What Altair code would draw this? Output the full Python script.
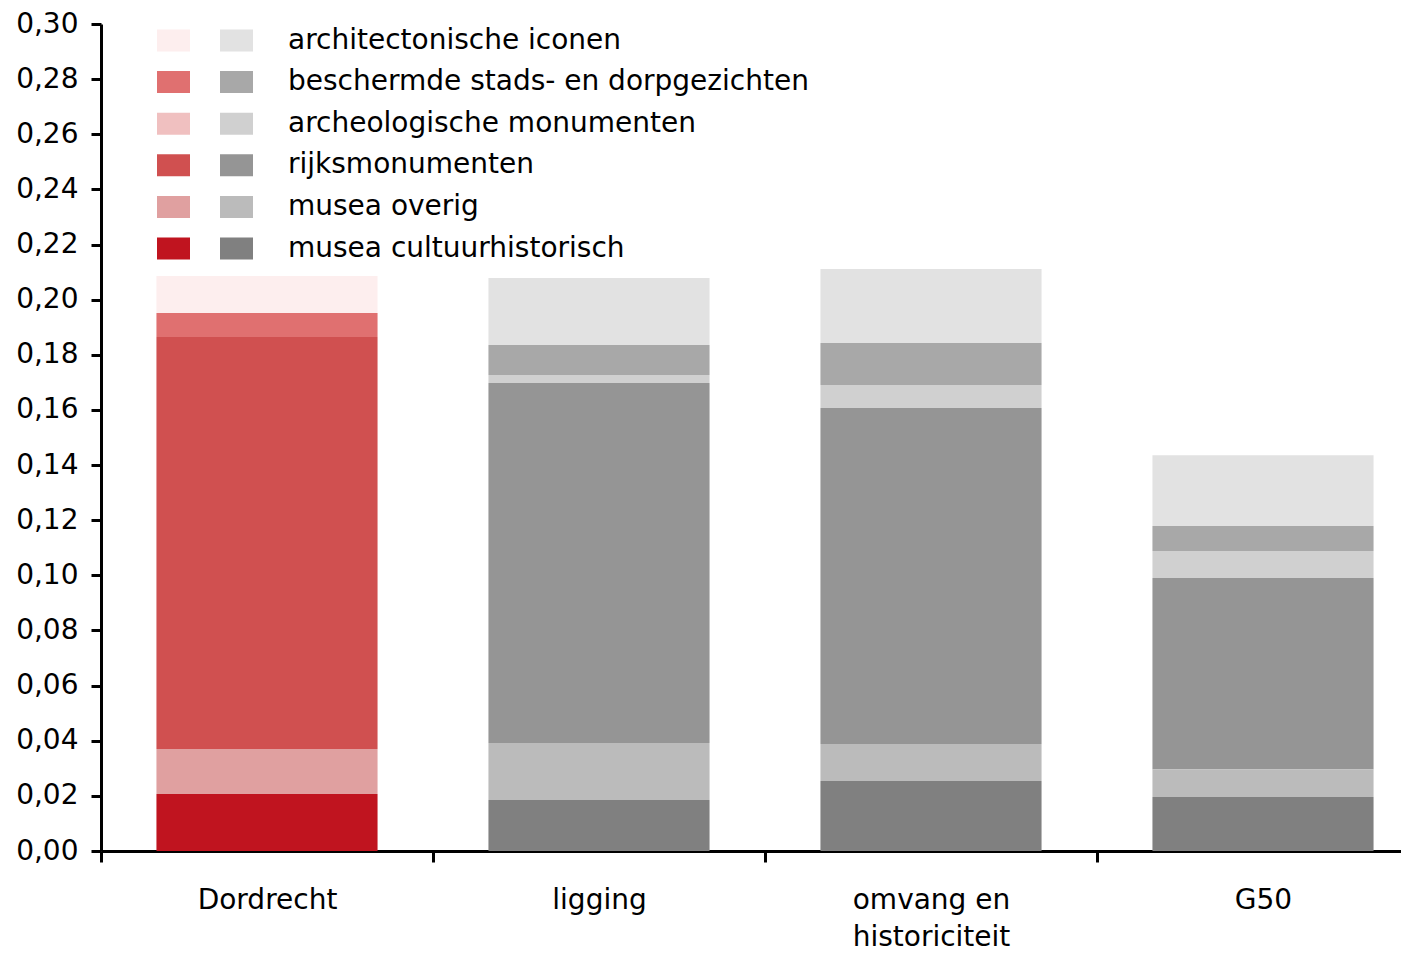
import altair as alt
import pandas as pd

CATEGORIES = ["Dordrecht", "ligging", "omvang en\nhistoriciteit", "G50"]
# legend order, top -> bottom
COMPONENTS = [
    "architectonische iconen",
    "beschermde stads- en dorpgezichten",
    "archeologische monumenten",
    "rijksmonumenten",
    "musea overig",
    "musea cultuurhistorisch",
]
ICONEN = [0.0134, 0.0243, 0.0268, 0.0257]
BESCHERMD = [0.0087, 0.0109, 0.0153, 0.0091]
ARCHEO = [0.0, 0.0029, 0.0083, 0.0098]
RIJKS = [0.1495, 0.1306, 0.1219, 0.0693]
MUSEA_OVERIG = [0.0163, 0.0207, 0.0134, 0.0101]
MUSEA_CULT = [0.0207, 0.0185, 0.0254, 0.0196]

RED = ["#FDEEEE", "#E07070", "#F0C0C0", "#D05050", "#E0A0A0", "#C0141F"]
GREY = ["#E2E2E2", "#A8A8A8", "#D0D0D0", "#959595", "#BBBBBB", "#808080"]

Y_TICKS = [0.00, 0.02, 0.04, 0.06, 0.08, 0.10, 0.12, 0.14, 0.16, 0.18,
           0.20, 0.22, 0.24, 0.26, 0.28, 0.30]

SERIES = [ICONEN, BESCHERMD, ARCHEO, RIJKS, MUSEA_OVERIG, MUSEA_CULT]
rows = []
for ci, comp in enumerate(COMPONENTS):
    for ki, cat in enumerate(CATEGORIES):
        rows.append({"category": cat, "component": comp,
                     "value": SERIES[ci][ki], "stackorder": len(COMPONENTS) - 1 - ci})
df = pd.DataFrame(rows)

FONT = "DejaVu Sans"
RECT = "M-1,-0.667L1,-0.667L1,0.667L-1,0.667Z"

x_enc = alt.X(
    "category:N", sort=CATEGORIES, title=None,
    scale=alt.Scale(range=[0, 1328], paddingInner=0, paddingOuter=0),
    axis=alt.Axis(tickBand="extent", labelAngle=0, labelFontSize=28,
                  labelExpr="split(datum.label, '\\n')", labelLineHeight=37,
                  tickSize=11, tickWidth=3, domainWidth=3, labelPadding=24,
                  labelColor="black", domainColor="black", tickColor="black",
                  grid=False, labelFont=FONT),
)
y_enc = alt.Y(
    "value:Q", stack="zero", title=None,
    scale=alt.Scale(domain=[0, 0.30], nice=False),
    axis=alt.Axis(values=Y_TICKS, labelExpr="replace(format(datum.value, '.2f'), '.', ',')",
                  labelFontSize=28, tickSize=10, tickWidth=3, domainWidth=3,
                  labelPadding=13, labelColor="black", domainColor="black",
                  tickColor="black", grid=False, labelFont=FONT),
)
order_enc = alt.Order("stackorder:Q", sort="ascending")

base = alt.Chart(df)

red = base.transform_filter(alt.datum.category == "Dordrecht").mark_bar(
    width=alt.RelativeBandSize(0.666)
).encode(
    x=x_enc, y=y_enc, order=order_enc,
    color=alt.Color(
        "component:N",
        scale=alt.Scale(domain=COMPONENTS, range=RED),
        legend=alt.Legend(orient="none", legendX=56, legendY=0, title=None,
                          labelExpr="''", symbolType=RECT, symbolSize=1089,
                          rowPadding=10.6, padding=0, symbolStrokeWidth=0,
                          labelOffset=0, symbolOpacity=1, labelFontSize=28,
                          labelFont=FONT),
    ),
)

grey = base.transform_filter(alt.datum.category != "Dordrecht").mark_bar(
    width=alt.RelativeBandSize(0.666)
).encode(
    x=x_enc, y=y_enc, order=order_enc,
    color=alt.Color(
        "component:N",
        scale=alt.Scale(domain=COMPONENTS, range=GREY),
        legend=alt.Legend(orient="none", legendX=119, legendY=0, title=None,
                          symbolType=RECT, symbolSize=1089, rowPadding=10.6,
                          padding=0, symbolStrokeWidth=0, labelOffset=35,
                          symbolOpacity=1, labelFontSize=28, labelLimit=900,
                          labelFont=FONT, labelColor="black"),
    ),
)

chart = alt.layer(red, grey).resolve_scale(color="independent").properties(
    width=1300, height=827,
    autosize="none",
    padding={"left": 93, "top": 16, "right": 0, "bottom": 98},
).configure(font=FONT).configure_view(stroke=None)

chart.save("out.html", embed_options={"renderer": "svg", "actions": False})
